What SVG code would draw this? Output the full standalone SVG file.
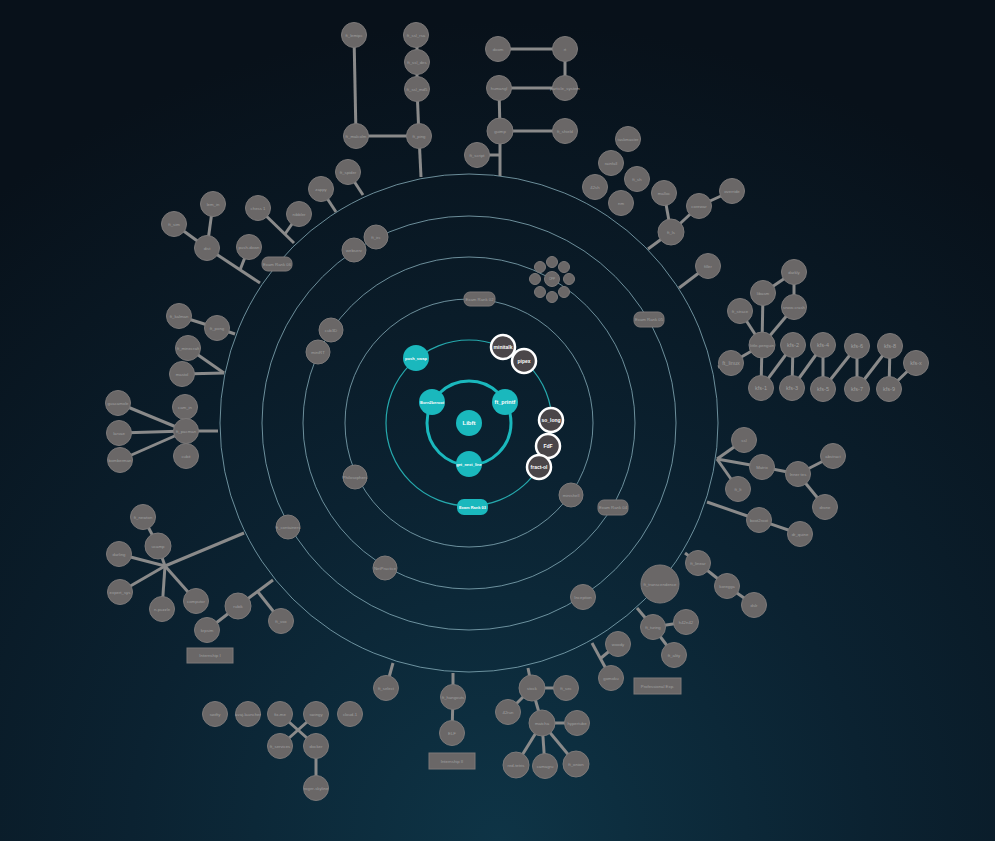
<svg xmlns="http://www.w3.org/2000/svg" width="995" height="841" viewBox="0 0 995 841">
<defs>
<radialGradient id="bg" cx="500" cy="841" r="820" gradientUnits="userSpaceOnUse">
<stop offset="0" stop-color="#0e3446"/>
<stop offset="0.45" stop-color="#0b2231"/>
<stop offset="1" stop-color="#08111a"/>
</radialGradient>
<style>
.ring{fill:none;stroke:#8cb4c0;stroke-width:1;opacity:.75}
.c line{stroke:#8a8a8a;stroke-width:3;stroke-linecap:butt}
.g circle,.g rect{fill:#6a6767;stroke:#7c7979;stroke-width:1}
.g text{fill:#a0a0a0;font-family:"Liberation Sans",Arial,sans-serif;font-size:4.3px;text-anchor:middle;dominant-baseline:central}
.tl circle,.tl rect{fill:#1ab8bd}
.tl text{fill:#ffffff;font-family:"Liberation Sans",Arial,sans-serif;font-weight:bold;font-size:4px;text-anchor:middle;dominant-baseline:central}
.w circle{fill:#4a4649;stroke:#ffffff;stroke-width:2.5}
.w text{fill:#ffffff;font-family:"Liberation Sans",Arial,sans-serif;font-weight:bold;font-size:5px;text-anchor:middle;dominant-baseline:central}
.k text{font-size:5.5px}
</style>
</defs>
<rect width="995" height="841" fill="url(#bg)"/>
<g id="rings">
<circle class="ring" cx="469" cy="423" r="249"/>
<circle class="ring" cx="469" cy="423" r="207"/>
<circle class="ring" cx="469" cy="423" r="166"/>
<circle class="ring" cx="469" cy="423" r="124"/>
<circle cx="469" cy="423" r="83" fill="none" stroke="#26a9ad" stroke-width="1.2"/>
<circle cx="469" cy="423" r="42" fill="none" stroke="#1ab8bd" stroke-width="3"/>
</g>
<g id="connectors" class="c">
<line x1="354" y1="35" x2="356" y2="136"/><line x1="356" y1="136" x2="419" y2="136"/>
<line x1="417" y1="35" x2="417" y2="62"/><line x1="417" y1="62" x2="417" y2="89"/>
<line x1="417" y1="89" x2="419" y2="136"/><line x1="419" y1="136" x2="421" y2="177"/>
<line x1="498" y1="49" x2="565" y2="49"/><line x1="565" y1="49" x2="565" y2="88"/>
<line x1="499" y1="88" x2="565" y2="88"/><line x1="499" y1="88" x2="500" y2="131"/>
<line x1="500" y1="131" x2="565" y2="131"/><line x1="500" y1="131" x2="500" y2="176"/>
<line x1="477" y1="155" x2="500" y2="155"/>
<line x1="664" y1="193" x2="671" y2="232"/><line x1="671" y1="232" x2="699" y2="206"/>
<line x1="699" y1="206" x2="732" y2="191"/><line x1="671" y1="232" x2="648" y2="249"/>
<line x1="708" y1="266" x2="679" y2="288"/>
<line x1="731" y1="363" x2="718" y2="367"/><line x1="731" y1="363" x2="762" y2="345"/>
<line x1="762" y1="345" x2="761" y2="388"/><line x1="762" y1="345" x2="740" y2="311"/>
<line x1="762" y1="345" x2="763" y2="293"/><line x1="763" y1="293" x2="794" y2="272"/>
<line x1="794" y1="272" x2="794" y2="307"/><line x1="794" y1="307" x2="762" y2="345"/>
<line x1="761" y1="388" x2="793" y2="345"/><line x1="793" y1="345" x2="792" y2="388"/>
<line x1="792" y1="388" x2="823" y2="345"/><line x1="823" y1="345" x2="823" y2="389"/>
<line x1="823" y1="389" x2="857" y2="346"/><line x1="857" y1="346" x2="857" y2="389"/>
<line x1="857" y1="389" x2="890" y2="346"/><line x1="890" y1="346" x2="889" y2="389"/>
<line x1="889" y1="389" x2="916" y2="363"/>
<line x1="717" y1="459" x2="744" y2="440"/><line x1="717" y1="459" x2="762" y2="467"/>
<line x1="762" y1="467" x2="798" y2="474"/><line x1="717" y1="459" x2="738" y2="489"/>
<line x1="798" y1="474" x2="833" y2="456"/><line x1="798" y1="474" x2="825" y2="507"/>
<line x1="707" y1="502" x2="759" y2="520"/><line x1="759" y1="520" x2="800" y2="534"/>
<line x1="685" y1="553" x2="698" y2="563"/><line x1="698" y1="563" x2="727" y2="586"/>
<line x1="727" y1="586" x2="754" y2="605"/>
<line x1="637" y1="608" x2="653" y2="627"/><line x1="653" y1="627" x2="686" y2="622"/>
<line x1="653" y1="627" x2="674" y2="655"/>
<line x1="592" y1="643" x2="611" y2="678"/><line x1="601" y1="658" x2="618" y2="644"/>
<line x1="528" y1="668" x2="532" y2="688"/><line x1="532" y1="688" x2="566" y2="688"/>
<line x1="532" y1="688" x2="508" y2="712"/><line x1="532" y1="688" x2="542" y2="723"/>
<line x1="542" y1="723" x2="577" y2="723"/><line x1="542" y1="723" x2="516" y2="765"/>
<line x1="542" y1="723" x2="545" y2="766"/><line x1="542" y1="723" x2="576" y2="764"/>
<line x1="393" y1="663" x2="386" y2="688"/>
<line x1="453" y1="673" x2="453" y2="697"/><line x1="453" y1="697" x2="452" y2="733"/>
<line x1="280" y1="714" x2="316" y2="746"/><line x1="316" y1="714" x2="280" y2="746"/>
<line x1="316" y1="746" x2="316" y2="788"/>
<line x1="165" y1="566" x2="244" y2="533"/><line x1="143" y1="517" x2="158" y2="546"/>
<line x1="158" y1="546" x2="165" y2="566"/><line x1="119" y1="554" x2="165" y2="566"/>
<line x1="120" y1="592" x2="165" y2="566"/><line x1="162" y1="609" x2="165" y2="566"/>
<line x1="196" y1="601" x2="165" y2="566"/>
<line x1="273" y1="580" x2="238" y2="606"/><line x1="258" y1="592" x2="281" y2="621"/>
<line x1="238" y1="606" x2="207" y2="630"/>
<line x1="179" y1="316" x2="217" y2="328"/><line x1="217" y1="328" x2="235" y2="334"/>
<line x1="224" y1="373" x2="188" y2="348"/><line x1="224" y1="373" x2="182" y2="374"/>
<line x1="218" y1="431" x2="186" y2="431"/><line x1="186" y1="431" x2="118" y2="403"/>
<line x1="186" y1="431" x2="119" y2="433"/><line x1="186" y1="431" x2="120" y2="460"/>
<line x1="348" y1="172" x2="363" y2="195"/><line x1="321" y1="189" x2="336" y2="212"/>
<line x1="258" y1="208" x2="294" y2="243"/><line x1="285" y1="234" x2="299" y2="214"/>
<line x1="174" y1="224" x2="207" y2="248"/><line x1="213" y1="204" x2="207" y2="248"/>
<line x1="207" y1="248" x2="260" y2="283"/><line x1="240" y1="270" x2="249" y2="247"/>
</g>
<g id="core">
<g id="n-libft" class="tl"><circle cx="469" cy="423" r="13"/><text x="469" y="423" style="font-size:6px">Libft</text></g>
<g id="n-born2beroot" class="tl"><circle cx="432" cy="402" r="13"/><text x="432" y="402">Born2beroot</text></g>
<g id="n-ft_printf" class="tl"><circle cx="505" cy="402" r="13"/><text x="505" y="402" style="font-size:5.5px">ft_printf</text></g>
<g id="n-gnl" class="tl"><circle cx="469" cy="464" r="13"/><text x="469" y="464">get_next_line</text></g>
<g id="n-push_swap" class="tl"><circle cx="416" cy="358" r="13"/><text x="416" y="358">push_swap</text></g>
<g id="n-exam03" class="tl"><rect x="457" y="499" width="31" height="16" rx="7"/><text x="472.5" y="507">Exam Rank 03</text></g>
<g id="n-minitalk" class="w"><circle cx="503" cy="347" r="12"/><text x="503" y="347">minitalk</text></g>
<g id="n-pipex" class="w"><circle cx="524" cy="361" r="12"/><text x="524" y="361">pipex</text></g>
<g id="n-so_long" class="w"><circle cx="551" cy="420" r="12"/><text x="551" y="420">so_long</text></g>
<g id="n-fdf" class="w"><circle cx="548" cy="446" r="12"/><text x="548" y="446">FdF</text></g>
<g id="n-fractol" class="w"><circle cx="539" cy="467" r="12"/><text x="539" y="467">fract-ol</text></g>
</g>
<g id="ringnodes" class="g">
<g id="n-exam02"><rect x="464" y="292" width="31" height="14" rx="6"/><text x="479.5" y="299">Exam Rank 02</text></g>
<g id="n-minishell"><circle cx="571" cy="495" r="12"/><text x="571" y="495">minishell</text></g>
<g id="n-exam04"><rect x="598" y="500" width="30" height="15" rx="6"/><text x="613" y="507.5">Exam Rank 04</text></g>
<g id="n-philo"><circle cx="355" cy="477" r="12"/><text x="355" y="477">Philosophers</text></g>
<g id="n-cpp"><circle cx="552" cy="279" r="7.5"/><circle cx="540" cy="267" r="5.5"/><circle cx="552" cy="262" r="5.5"/><circle cx="564" cy="267" r="5.5"/><circle cx="569" cy="279" r="5.5"/><circle cx="564" cy="292" r="5.5"/><circle cx="552" cy="297" r="5.5"/><circle cx="540" cy="292" r="5.5"/><circle cx="535" cy="279" r="5.5"/><text x="552" y="279" style="font-size:3px">CPP</text></g>
<g id="n-cub3d"><circle cx="331" cy="330" r="12"/><text x="331" y="330">cub3D</text></g>
<g id="n-minirt"><circle cx="318" cy="352" r="12"/><text x="318" y="352">miniRT</text></g>
<g id="n-netpractice"><circle cx="385" cy="568" r="12"/><text x="385" y="568">NetPractice</text></g>
<g id="n-inception"><circle cx="583" cy="597" r="12.5"/><text x="583" y="597">Inception</text></g>
<g id="n-exam05"><rect x="634" y="312" width="30" height="15" rx="6"/><text x="649" y="319.5">Exam Rank 05</text></g>
<g id="n-webserv"><circle cx="354" cy="250" r="12"/><text x="354" y="250">webserv</text></g>
<g id="n-ft_irc"><circle cx="376" cy="237" r="12"/><text x="376" y="237">ft_irc</text></g>
<g id="n-containers"><circle cx="288" cy="527" r="12"/><text x="288" y="527">ft_containers</text></g>
<g id="n-exam06"><rect x="262" y="257" width="30" height="14" rx="6"/><text x="277" y="264">Exam Rank 06</text></g>
<g id="n-transcendence"><circle cx="660" cy="584" r="19"/><text x="660" y="584">ft_transcendence</text></g>
</g>
<g id="outer" class="g">
<g id="n-ft_lemipc"><circle cx="354" cy="35" r="12.5"/><text x="354" y="35">ft_lemipc</text></g>
<g id="n-ft_malcolm"><circle cx="356" cy="136" r="12.5"/><text x="356" y="136">ft_malcolm</text></g>
<g id="n-ft_ssl_rsa"><circle cx="416" cy="35" r="12.5"/><text x="416" y="35">ft_ssl_rsa</text></g>
<g id="n-ft_ssl_des"><circle cx="417" cy="62" r="12.5"/><text x="417" y="62">ft_ssl_des</text></g>
<g id="n-ft_ssl_md5"><circle cx="417" cy="89" r="12.5"/><text x="417" y="89">ft_ssl_md5</text></g>
<g id="n-ft_ping"><circle cx="419" cy="136" r="12.5"/><text x="419" y="136">ft_ping</text></g>
<g id="n-doom"><circle cx="498" cy="49" r="12.5"/><text x="498" y="49">doom</text></g>
<g id="n-rt"><circle cx="565" cy="49" r="12.5"/><text x="565" y="49">rt</text></g>
<g id="n-particle"><circle cx="565" cy="88" r="12.5"/><text x="565" y="88">particle_system</text></g>
<g id="n-humangl"><circle cx="499" cy="88" r="12.5"/><text x="499" y="88">humangl</text></g>
<g id="n-guimp"><circle cx="500" cy="131" r="13"/><text x="500" y="131">guimp</text></g>
<g id="n-ft_shield"><circle cx="565" cy="131" r="12.5"/><text x="565" y="131">ft_shield</text></g>
<g id="n-ft_script"><circle cx="477" cy="155" r="12.5"/><text x="477" y="155">ft_script</text></g>
<g id="n-taskmaster"><circle cx="628" cy="139" r="12.5"/><text x="628" y="139">taskmaster</text></g>
<g id="n-rainfall"><circle cx="611" cy="163" r="12.5"/><text x="611" y="163">rainfall</text></g>
<g id="n-ft_sh"><circle cx="637" cy="179" r="12.5"/><text x="637" y="179">ft_sh</text></g>
<g id="n-42sh"><circle cx="595" cy="187" r="12.5"/><text x="595" y="187">42sh</text></g>
<g id="n-nm"><circle cx="621" cy="203" r="12.5"/><text x="621" y="203">nm</text></g>
<g id="n-malloc"><circle cx="664" cy="193" r="12.5"/><text x="664" y="193">malloc</text></g>
<g id="n-corewar"><circle cx="699" cy="206" r="12.5"/><text x="699" y="206">corewar</text></g>
<g id="n-override"><circle cx="732" cy="191" r="12.5"/><text x="732" y="191">override</text></g>
<g id="n-ft_ls"><circle cx="671" cy="232" r="13"/><text x="671" y="232">ft_ls</text></g>
<g id="n-filler"><circle cx="708" cy="266" r="12.5"/><text x="708" y="266">filler</text></g>
<g id="n-darkly"><circle cx="794" cy="272" r="12.5"/><text x="794" y="272">darkly</text></g>
<g id="n-libasm"><circle cx="763" cy="293" r="12.5"/><text x="763" y="293">libasm</text></g>
<g id="n-snowcrash"><circle cx="794" cy="307" r="12.5"/><text x="794" y="307">snow-crash</text></g>
<g id="n-ft_strace"><circle cx="740" cy="311" r="12.5"/><text x="740" y="311">ft_strace</text></g>
<g id="n-penguin"><circle cx="762" cy="345" r="13"/><text x="762" y="345">little-penguin</text></g>
<g id="n-ft_linux" class="k"><circle cx="731" cy="363" r="12.5"/><text x="731" y="363">ft_linux</text></g>
<g id="n-kfs1" class="k"><circle cx="761" cy="388" r="12.5"/><text x="761" y="388">kfs-1</text></g>
<g id="n-kfs2" class="k"><circle cx="793" cy="345" r="12.5"/><text x="793" y="345">kfs-2</text></g>
<g id="n-kfs3" class="k"><circle cx="792" cy="388" r="12.5"/><text x="792" y="388">kfs-3</text></g>
<g id="n-kfs4" class="k"><circle cx="823" cy="345" r="12.5"/><text x="823" y="345">kfs-4</text></g>
<g id="n-kfs5" class="k"><circle cx="823" cy="389" r="12.5"/><text x="823" y="389">kfs-5</text></g>
<g id="n-kfs6" class="k"><circle cx="857" cy="346" r="12.5"/><text x="857" y="346">kfs-6</text></g>
<g id="n-kfs7" class="k"><circle cx="857" cy="389" r="12.5"/><text x="857" y="389">kfs-7</text></g>
<g id="n-kfs8" class="k"><circle cx="890" cy="346" r="12.5"/><text x="890" y="346">kfs-8</text></g>
<g id="n-kfs9" class="k"><circle cx="889" cy="389" r="12.5"/><text x="889" y="389">kfs-9</text></g>
<g id="n-kfsx" class="k"><circle cx="916" cy="363" r="12.5"/><text x="916" y="363">kfs-x</text></g>
<g id="n-ssl"><circle cx="744" cy="440" r="12.5"/><text x="744" y="440">ssl</text></g>
<g id="n-matrix"><circle cx="762" cy="467" r="12.5"/><text x="762" y="467">Matrix</text></g>
<g id="n-ft_lt"><circle cx="738" cy="489" r="12.5"/><text x="738" y="489">ft_lt</text></g>
<g id="n-innertes"><circle cx="798" cy="474" r="12.5"/><text x="798" y="474">Inner tes</text></g>
<g id="n-abstract"><circle cx="833" cy="456" r="12.5"/><text x="833" y="456">abstract</text></g>
<g id="n-drone"><circle cx="825" cy="507" r="12.5"/><text x="825" y="507">drone</text></g>
<g id="n-boot2root"><circle cx="759" cy="520" r="12.5"/><text x="759" y="520">boot2root</text></g>
<g id="n-dr_quine"><circle cx="800" cy="534" r="12.5"/><text x="800" y="534">dr_quine</text></g>
<g id="n-ft_linear"><circle cx="698" cy="563" r="12.5"/><text x="698" y="563">ft_linear</text></g>
<g id="n-koregga"><circle cx="727" cy="586" r="12.5"/><text x="727" y="586">koregga</text></g>
<g id="n-dslr"><circle cx="754" cy="605" r="12.5"/><text x="754" y="605">dslr</text></g>
<g id="n-ft_turing"><circle cx="653" cy="627" r="12.5"/><text x="653" y="627">ft_turing</text></g>
<g id="n-h42n42"><circle cx="686" cy="622" r="12.5"/><text x="686" y="622">h42n42</text></g>
<g id="n-ft_ality"><circle cx="674" cy="655" r="12.5"/><text x="674" y="655">ft_ality</text></g>
<g id="n-woody"><circle cx="618" cy="644" r="12.5"/><text x="618" y="644">woody</text></g>
<g id="n-gomoku"><circle cx="611" cy="678" r="12.5"/><text x="611" y="678">gomoku</text></g>
<g id="n-stock"><circle cx="532" cy="688" r="13"/><text x="532" y="688">stock</text></g>
<g id="n-ft_sec"><circle cx="566" cy="688" r="12.5"/><text x="566" y="688">ft_sec</text></g>
<g id="n-42run"><circle cx="508" cy="712" r="12.5"/><text x="508" y="712">42run</text></g>
<g id="n-matcha"><circle cx="542" cy="723" r="13"/><text x="542" y="723">matcha</text></g>
<g id="n-hypertube"><circle cx="577" cy="723" r="12.5"/><text x="577" y="723">hypertube</text></g>
<g id="n-redtetris"><circle cx="516" cy="765" r="13"/><text x="516" y="765">red-tetris</text></g>
<g id="n-camagru"><circle cx="545" cy="766" r="12.5"/><text x="545" y="766">camagru</text></g>
<g id="n-ft_onion"><circle cx="576" cy="764" r="13"/><text x="576" y="764">ft_onion</text></g>
<g id="n-ft_select"><circle cx="386" cy="688" r="12.5"/><text x="386" y="688">ft_select</text></g>
<g id="n-ft_hangouts"><circle cx="453" cy="697" r="12.5"/><text x="453" y="697">ft_hangouts</text></g>
<g id="n-elf"><circle cx="452" cy="733" r="12.5"/><text x="452" y="733">ELF</text></g>
<g id="n-swifty"><circle cx="215" cy="714" r="12.5"/><text x="215" y="714">swifty</text></g>
<g id="n-avaj"><circle cx="248" cy="714" r="12.5"/><text x="248" y="714">avaj-launcher</text></g>
<g id="n-fixme"><circle cx="280" cy="714" r="12.5"/><text x="280" y="714">fix-me</text></g>
<g id="n-swingy"><circle cx="316" cy="714" r="12.5"/><text x="316" y="714">swingy</text></g>
<g id="n-cloud1"><circle cx="350" cy="714" r="12.5"/><text x="350" y="714">cloud-1</text></g>
<g id="n-ft_services"><circle cx="280" cy="746" r="12.5"/><text x="280" y="746">ft_services</text></g>
<g id="n-docker"><circle cx="316" cy="746" r="12.5"/><text x="316" y="746">docker</text></g>
<g id="n-roger"><circle cx="316" cy="788" r="12.5"/><text x="316" y="788">roger-skyline</text></g>
<g id="n-lb1"><circle cx="143" cy="517" r="12.5"/><text x="143" y="517">ft_newton</text></g>
<g id="n-lb2"><circle cx="158" cy="546" r="13"/><text x="158" y="546">ucamp</text></g>
<g id="n-lb3"><circle cx="119" cy="554" r="12.5"/><text x="119" y="554">darling</text></g>
<g id="n-lb4"><circle cx="120" cy="592" r="12.5"/><text x="120" y="592">expert_sys</text></g>
<g id="n-lb5"><circle cx="162" cy="609" r="12.5"/><text x="162" y="609">n-puzzle</text></g>
<g id="n-lb6"><circle cx="196" cy="601" r="12.5"/><text x="196" y="601">computor</text></g>
<g id="n-lb7"><circle cx="238" cy="606" r="13"/><text x="238" y="606">rubik</text></g>
<g id="n-lb8"><circle cx="207" cy="630" r="12.5"/><text x="207" y="630">krpsim</text></g>
<g id="n-lb9"><circle cx="281" cy="621" r="12.5"/><text x="281" y="621">ft_vox</text></g>
<g id="n-l1"><circle cx="179" cy="316" r="12.5"/><text x="179" y="316">ft_kalman</text></g>
<g id="n-l2"><circle cx="217" cy="328" r="12.5"/><text x="217" y="328">ft_pong</text></g>
<g id="n-l3"><circle cx="188" cy="348" r="12.5"/><text x="188" y="348">ft_minecraft</text></g>
<g id="n-l4"><circle cx="182" cy="374" r="12.5"/><text x="182" y="374">mastol</text></g>
<g id="n-l5"><circle cx="185" cy="407" r="12.5"/><text x="185" y="407">cam_in</text></g>
<g id="n-l6"><circle cx="186" cy="431" r="12.5"/><text x="186" y="431">ft_pacman</text></g>
<g id="n-l7"><circle cx="186" cy="456" r="12.5"/><text x="186" y="456">cubit</text></g>
<g id="n-l8"><circle cx="118" cy="403" r="12.5"/><text x="118" y="403">guacamole</text></g>
<g id="n-l9"><circle cx="119" cy="433" r="12.5"/><text x="119" y="433">larvae</text></g>
<g id="n-l10"><circle cx="120" cy="460" r="12.5"/><text x="120" y="460">bomberman</text></g>
<g id="n-tl1"><circle cx="348" cy="172" r="12.5"/><text x="348" y="172">ft_spider</text></g>
<g id="n-tl2"><circle cx="321" cy="189" r="12.5"/><text x="321" y="189">zappy</text></g>
<g id="n-tl3"><circle cx="299" cy="214" r="12.5"/><text x="299" y="214">nibbler</text></g>
<g id="n-tl4"><circle cx="258" cy="208" r="12.5"/><text x="258" y="208">chess 1</text></g>
<g id="n-tl5"><circle cx="213" cy="204" r="12.5"/><text x="213" y="204">lem_in</text></g>
<g id="n-tl6"><circle cx="174" cy="224" r="12.5"/><text x="174" y="224">ft_sim</text></g>
<g id="n-tl7"><circle cx="207" cy="248" r="12.5"/><text x="207" y="248">dist</text></g>
<g id="n-tl8"><circle cx="249" cy="247" r="12.5"/><text x="249" y="247">push-down</text></g>
<g id="n-rect1"><rect x="187" y="648" width="46" height="15"/><text x="210" y="655.5">Internship I</text></g>
<g id="n-rect2"><rect x="634" y="678" width="47" height="16"/><text x="657.5" y="686">Professional Exp.</text></g>
<g id="n-rect3"><rect x="429" y="753" width="46" height="16"/><text x="452" y="761">Internship II</text></g>
</g>
</svg>
